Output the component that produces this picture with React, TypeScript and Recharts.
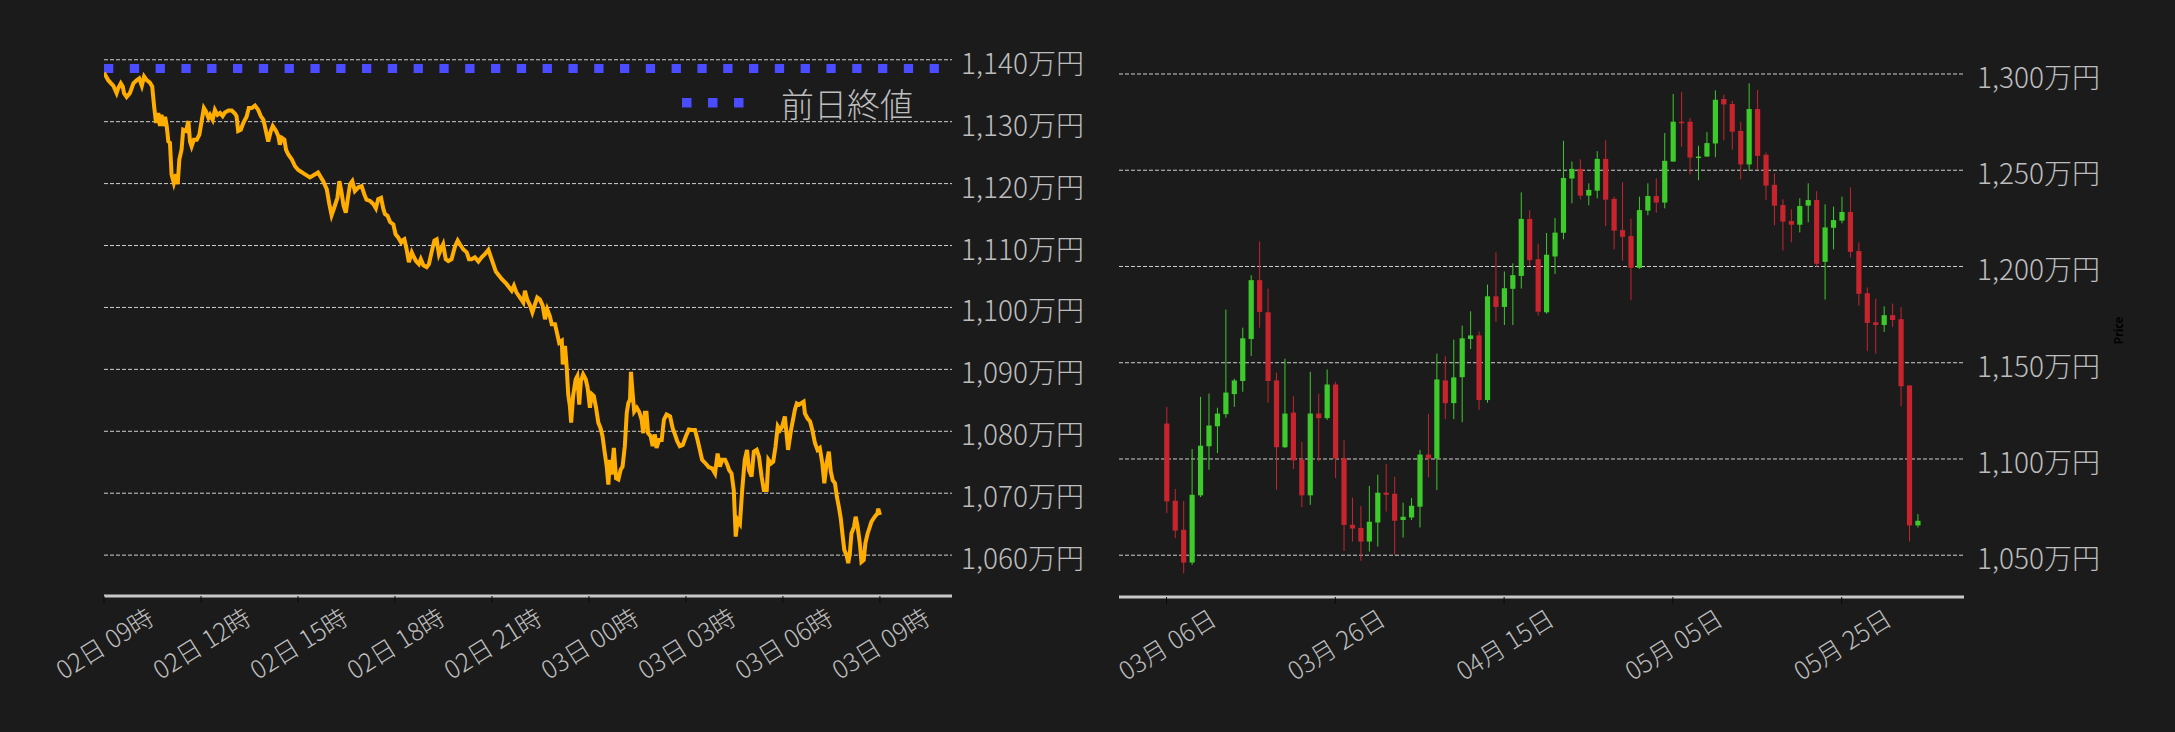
import React from "react";
import {
  Bar,
  CartesianGrid,
  ComposedChart,
  Line,
  LineChart,
  ReferenceLine,
  XAxis,
  YAxis,
} from "recharts";

// ---- intraday (left) ----
const lineHours = [
  0, 0.13, 0.29, 0.39, 0.44, 0.52, 0.58, 0.62, 0.7, 0.8,
  0.91, 1.01, 1.09, 1.17, 1.24, 1.32, 1.42, 1.49, 1.55, 1.61,
  1.68, 1.73, 1.78, 1.83, 1.89, 1.94, 1.99, 2.04, 2.09, 2.16,
  2.23, 2.28, 2.33, 2.4, 2.45, 2.54, 2.61, 2.66, 2.71, 2.78,
  2.87, 2.95, 3.02, 3.09, 3.15, 3.23, 3.28, 3.36, 3.43, 3.51,
  3.59, 3.67, 3.74, 3.85, 3.95, 4.05, 4.1, 4.15, 4.23, 4.31,
  4.41, 4.48, 4.57, 4.67, 4.77, 4.85, 4.93, 5.0, 5.08, 5.16,
  5.22, 5.32, 5.39, 5.44, 5.5, 5.58, 5.63, 5.7, 5.81, 5.91,
  6.01, 6.22, 6.37, 6.62,
  6.78, 6.89, 6.97, 7.04, 7.12, 7.22, 7.28, 7.35, 7.41, 7.48,
  7.54, 7.61, 7.68, 7.76, 7.87, 7.97, 8.05, 8.12, 8.23, 8.33,
  8.41, 8.48, 8.57, 8.64, 8.69, 8.77, 8.85, 8.95, 9.02, 9.1,
  9.19, 9.23, 9.29, 9.36, 9.43, 9.52, 9.59, 9.65, 9.74, 9.8,
  9.88, 9.98, 10.05, 10.14, 10.22, 10.29, 10.36, 10.42, 10.49, 10.57,
  10.65, 10.75, 10.86, 10.94, 11.01, 11.11, 11.22, 11.29, 11.37, 11.47,
  11.58, 11.68, 11.78, 11.89, 11.97, 12.06,
  12.12, 12.3, 12.45, 12.61, 12.68, 12.76, 12.87, 12.97, 13.02, 13.09,
  13.18, 13.25, 13.33, 13.4, 13.48, 13.57, 13.64, 13.71, 13.79, 13.85,
  13.95, 14.02, 14.08, 14.16, 14.19, 14.26, 14.31, 14.36, 14.41, 14.45,
  14.51, 14.59, 14.64, 14.7, 14.75, 14.82, 14.9, 14.96, 15.03, 15.09,
  15.15, 15.22, 15.29, 15.36, 15.42, 15.49, 15.55, 15.6, 15.65, 15.7,
  15.77, 15.84, 15.91, 15.98, 16.04, 16.11, 16.17, 16.22, 16.27, 16.3,
  16.35, 16.4, 16.48, 16.55, 16.63, 16.68, 16.73, 16.78, 16.83, 16.91,
  16.97, 17.04, 17.09, 17.17, 17.25, 17.32, 17.4, 17.51, 17.59, 17.66,
  17.73, 17.81, 17.9, 18.0, 18.09,
  18.18, 18.28, 18.36, 18.43, 18.5, 18.61, 18.71, 18.81, 18.9, 18.98,
  19.05, 19.12, 19.21, 19.28, 19.34, 19.41, 19.48, 19.54, 19.6, 19.67,
  19.74, 19.82, 19.89, 19.95, 20.03, 20.1, 20.19, 20.26, 20.34, 20.41,
  20.5, 20.55, 20.63, 20.7, 20.77, 20.84, 20.91, 20.98, 21.06, 21.11,
  21.16, 21.25, 21.32, 21.37, 21.43, 21.5, 21.58, 21.64, 21.68, 21.76,
  21.84, 21.91, 21.99, 22.07, 22.14, 22.22, 22.28, 22.35, 22.42, 22.48,
  22.54, 22.61, 22.67, 22.73, 22.79, 22.85, 22.9, 22.97, 23.02, 23.07,
  23.12, 23.2, 23.25, 23.31, 23.38, 23.43, 23.5, 23.55, 23.62, 23.69,
  23.74, 23.84, 23.92, 23.95, 24.0,
];

const linePrices = [
  1137.9, 1136.7, 1135.8, 1134.6, 1135.4, 1136.2, 1135.7, 1134.6, 1134.0, 1134.6,
  1136.2, 1136.7, 1137.0, 1135.8, 1137.3, 1136.7, 1136.3, 1135.7, 1132.5, 1129.8,
  1131.4, 1129.3, 1131.1, 1129.3, 1130.8, 1129.3, 1126.8, 1126.6, 1121.5, 1120.1,
  1121.5, 1119.9, 1123.9, 1125.5, 1128.7, 1128.5, 1130.1, 1126.8, 1126.0, 1127.1,
  1127.1, 1127.9, 1130.1, 1132.2, 1131.7, 1130.6, 1131.1, 1130.3, 1131.9, 1131.1,
  1131.4, 1130.9, 1131.5, 1131.8, 1131.8, 1131.3, 1130.9, 1128.5, 1128.7, 1129.8,
  1130.8, 1132.2, 1132.2, 1132.6, 1131.9, 1130.9, 1130.3, 1128.7, 1126.8, 1128.5,
  1129.3, 1128.5, 1127.7, 1126.3, 1127.4, 1127.1, 1125.5, 1124.7, 1123.9, 1122.8,
  1122.2, 1121.5, 1121.0, 1121.8,
  1120.4, 1119.1, 1116.7, 1114.9, 1116.1, 1117.7, 1120.4, 1118.5, 1116.4, 1115.3,
  1117.5, 1119.9, 1120.4, 1118.8, 1119.4, 1119.6, 1118.3, 1117.4, 1117.2, 1116.7,
  1116.0, 1117.5, 1117.7, 1115.9, 1115.1, 1114.8, 1113.8, 1113.4, 1111.8, 1111.3,
  1110.5, 1110.8, 1111.0, 1109.4, 1107.3, 1108.9, 1108.1, 1107.5, 1107.0, 1107.8,
  1106.8, 1106.5, 1107.0, 1109.1, 1110.8, 1111.0, 1108.6, 1109.4, 1110.2, 1107.8,
  1107.5, 1107.8, 1109.9, 1110.8, 1110.2, 1109.4, 1108.9, 1107.8, 1107.8, 1108.1,
  1107.4, 1108.1, 1108.6, 1109.3, 1108.1, 1106.7,
  1105.8, 1104.6, 1103.8, 1102.7, 1103.5, 1102.4, 1101.6, 1100.8, 1102.7, 1101.3,
  1100.3, 1099.2, 1100.5, 1101.6, 1101.3, 1100.3, 1098.1, 1099.7, 1098.6, 1097.3,
  1097.3, 1095.7, 1094.3, 1094.6, 1090.8, 1093.8, 1090.5, 1085.9, 1084.1, 1081.4,
  1085.7, 1088.4, 1088.9, 1084.3, 1088.1, 1089.2, 1088.4, 1087.0, 1083.8, 1086.0,
  1085.7, 1083.8, 1081.4, 1080.5, 1079.2, 1076.5, 1074.3, 1071.4, 1075.4, 1073.0,
  1077.3, 1072.4, 1072.2, 1073.8, 1074.3, 1077.6, 1083.0, 1084.6, 1085.1, 1089.6,
  1086.2, 1083.2, 1083.8, 1083.2, 1081.9, 1079.7, 1083.0, 1083.0, 1079.7, 1079.2,
  1077.6, 1079.5, 1077.3, 1078.6, 1078.6, 1081.9, 1082.7, 1082.4, 1080.5, 1079.5,
  1078.4, 1077.6, 1077.8, 1079.2, 1080.3,
  1080.2, 1080.2, 1078.6, 1077.0, 1075.4, 1074.8, 1074.2, 1074.0, 1073.2, 1076.4,
  1074.3, 1075.4, 1075.4, 1074.6, 1073.7, 1073.2, 1070.5, 1063.0, 1065.7, 1065.1,
  1070.5, 1075.4, 1077.0, 1073.7, 1072.7, 1076.7, 1077.0, 1075.9, 1072.7, 1070.5,
  1070.5, 1075.4, 1074.8, 1075.1, 1077.5, 1080.8, 1080.2, 1080.8, 1082.4, 1079.7,
  1077.0, 1080.2, 1082.1, 1083.5, 1084.5, 1084.3, 1084.6, 1084.8, 1082.9, 1082.1,
  1081.6, 1080.2, 1078.1, 1077.0, 1077.3, 1074.8, 1071.6, 1074.8, 1076.7, 1073.5,
  1072.1, 1071.6, 1069.4, 1067.8, 1065.9, 1063.0, 1060.8, 1060.0, 1058.7, 1060.3,
  1063.5, 1064.6, 1066.2, 1064.6, 1061.9, 1058.9, 1059.2, 1061.9, 1063.5, 1064.6,
  1065.4, 1066.2, 1066.7, 1067.5, 1066.5,
];

const prevClose = 1138.6;
const hourTicks = [0, 3, 6, 9, 12, 15, 18, 21, 24];
const hourLabels = [
  "02日 09時", "02日 12時", "02日 15時", "02日 18時", "02日 21時",
  "03日 00時", "03日 03時", "03日 06時", "03日 09時",
];
const leftYTicks = [1060, 1070, 1080, 1090, 1100, 1110, 1120, 1130, 1140];

// ---- daily candles (right), 03/06 .. 06/03 ----
const opens = [
  1118.4, 1078.3, 1063.2, 1046.2, 1081.1, 1106.6, 1117.0, 1123.3, 1133.7, 1140.5,
  1162.3, 1192.9, 1176.2, 1140.8, 1106.1, 1124.1, 1099.7, 1081.1, 1123.6, 1121.2,
  1138.7, 1100.4, 1065.8, 1064.2, 1057.1, 1067.0, 1082.5, 1081.9, 1068.3, 1069.6,
  1075.2, 1102.3, 1100.2, 1140.8, 1129.0, 1142.5, 1162.3, 1164.2, 1130.6, 1184.5,
  1179.0, 1188.4, 1195.1, 1224.7, 1203.8, 1176.2, 1205.2, 1217.5, 1245.7, 1250.7,
  1236.8, 1239.4, 1255.9, 1235.1, 1218.9, 1215.8, 1199.3, 1229.0, 1236.6, 1233.2,
  1254.5, 1275.2, 1275.2, 1256.8, 1257.1, 1263.9, 1287.0, 1284.4, 1270.4, 1253.0,
  1281.8, 1258.0, 1242.4, 1231.9, 1223.6, 1221.7, 1231.6, 1234.5, 1202.4, 1220.1,
  1223.8, 1228.3, 1208.0, 1186.1, 1171.0, 1169.6, 1174.7, 1172.6, 1138.2, 1065.5,
];
const highs = [
  1127.1, 1084.4, 1078.1, 1105.2, 1132.3, 1134.0, 1126.6, 1177.6, 1141.7, 1168.2,
  1195.5, 1213.0, 1188.5, 1144.8, 1152.1, 1132.6, 1108.9, 1145.3, 1133.9, 1146.5,
  1140.1, 1109.7, 1079.9, 1075.5, 1086.0, 1091.8, 1097.4, 1090.8, 1077.3, 1079.7,
  1104.7, 1123.4, 1154.7, 1153.3, 1162.0, 1169.3, 1176.7, 1166.3, 1190.6, 1207.3,
  1197.4, 1201.6, 1238.5, 1229.2, 1211.8, 1217.4, 1225.2, 1265.3, 1254.5, 1255.7,
  1243.2, 1259.9, 1265.5, 1236.3, 1243.8, 1224.8, 1236.3, 1243.2, 1245.8, 1269.3,
  1289.6, 1290.6, 1277.1, 1262.7, 1269.8, 1291.5, 1289.2, 1286.0, 1275.2, 1295.2,
  1291.7, 1259.2, 1248.4, 1234.9, 1229.7, 1235.4, 1243.2, 1239.1, 1232.3, 1231.1,
  1236.3, 1241.1, 1212.5, 1189.1, 1183.3, 1179.3, 1180.7, 1178.8, 1138.2, 1071.4,
];
const lows = [
  1071.9, 1058.9, 1040.6, 1045.0, 1080.2, 1094.4, 1103.1, 1121.4, 1127.1, 1134.9,
  1153.5, 1168.2, 1129.2, 1084.0, 1105.7, 1094.8, 1075.0, 1076.2, 1098.8, 1120.3,
  1090.1, 1052.2, 1057.1, 1047.1, 1051.9, 1054.5, 1072.7, 1050.2, 1059.2, 1068.3,
  1064.4, 1090.5, 1083.9, 1120.7, 1120.7, 1119.1, 1157.1, 1125.5, 1129.2, 1171.2,
  1169.6, 1169.6, 1188.5, 1200.3, 1174.5, 1175.4, 1196.1, 1214.1, 1232.8, 1234.9,
  1231.8, 1235.4, 1221.0, 1208.9, 1203.0, 1182.5, 1198.8, 1226.6, 1227.9, 1230.2,
  1254.5, 1262.3, 1247.9, 1244.8, 1257.1, 1256.8, 1265.5, 1260.7, 1245.3, 1249.8,
  1250.1, 1234.4, 1221.4, 1208.3, 1212.5, 1217.7, 1222.9, 1199.8, 1182.8, 1208.9,
  1222.4, 1204.7, 1179.7, 1156.1, 1154.7, 1166.0, 1168.6, 1127.4, 1057.1, 1064.4,
];
const closes = [
  1078.0, 1062.8, 1046.2, 1081.4, 1106.9, 1117.4, 1123.6, 1134.5, 1140.8, 1162.7,
  1192.9, 1176.4, 1140.5, 1106.1, 1123.6, 1099.3, 1081.1, 1123.6, 1121.2, 1138.7,
  1100.2, 1065.7, 1063.9, 1057.1, 1067.4, 1082.5, 1081.4, 1067.9, 1070.0, 1075.7,
  1102.3, 1100.2, 1141.3, 1129.0, 1142.4, 1162.7, 1164.2, 1130.6, 1184.5, 1179.0,
  1188.7, 1195.5, 1224.7, 1203.3, 1176.5, 1206.1, 1217.6, 1246.0, 1250.7, 1236.8,
  1239.8, 1255.9, 1234.7, 1218.6, 1215.4, 1199.3, 1229.3, 1236.6, 1233.2, 1254.9,
  1275.2, 1274.8, 1256.6, 1257.1, 1264.1, 1286.6, 1284.2, 1270.0, 1253.0, 1281.8,
  1257.5, 1242.0, 1231.6, 1223.3, 1221.7, 1231.4, 1234.5, 1201.4, 1220.3, 1224.1,
  1228.3, 1207.6, 1185.8, 1170.7, 1169.6, 1174.7, 1172.2, 1137.8, 1065.5, 1067.9,
];
const dayTicks = [0, 20, 40, 60, 80];
const dayLabels = ["03月 06日", "03月 26日", "04月 15日", "05月 05日", "05月 25日"];
const rightYTicks = [1050, 1100, 1150, 1200, 1250, 1300];

const BG = "#1b1b1b";
const TEXT = "#bdbdbd";
const GRID = "#cfcfcf";
const ORANGE = "#ffad00";
const BLUE = "#4b4bff";
const GREEN = "#3dca2b";
const RED = "#c8242e";
const FONT = "'Noto Sans CJK JP', 'Noto Sans', sans-serif";

const lineData = lineHours.map((t, i) => ({ t, p: linePrices[i] }));
const candleData = opens.map((o, i) => ({
  i,
  open: o,
  high: highs[i],
  low: lows[i],
  close: closes[i],
  range: [lows[i], highs[i]],
}));

const yen = (v: number) => `${v.toLocaleString("en-US")}万円`;

function YTick(props: any) {
  const { x, y, payload } = props;
  return (
    <text
      x={x}
      y={y + 2}
      fill={TEXT}
      fontSize={28}
      fontWeight={300}
      textAnchor="start"
      dominantBaseline="central"
    >
      {yen(payload.value)}
    </text>
  );
}

function makeXTick(ticks: number[], labels: string[]) {
  return function XTick(props: any) {
    const { x, y, payload } = props;
    const cy = y + 39;
    const label = labels[ticks.indexOf(payload.value)] ?? "";
    return (
      <text
        x={x}
        y={cy}
        fill={TEXT}
        fontSize={25}
        fontWeight={300}
        textAnchor="middle"
        dominantBaseline="central"
        transform={`rotate(-32, ${x}, ${cy})`}
      >
        {label}
      </text>
    );
  };
}

const HourTick = makeXTick(hourTicks, hourLabels);
const DayTick = makeXTick(dayTicks, dayLabels);

function Candle(props: any) {
  const { x, y, width, height, payload } = props;
  if (!payload) return null;
  const top = Math.min(y, y + height);
  const h = Math.abs(height);
  const { open, close, high, low } = payload;
  const k = high > low ? h / (high - low) : 0;
  const cx = x + width / 2;
  const yO = top + (high - open) * k;
  const yC = top + (high - close) * k;
  const color = close >= open ? GREEN : RED;
  const bodyTop = Math.min(yO, yC);
  const bodyH = Math.max(Math.abs(yC - yO), 1.5);
  return (
    <g>
      <line x1={cx} x2={cx} y1={top} y2={top + h} stroke={color} strokeWidth={1} />
      <rect x={cx - 2.6} y={bodyTop} width={5.2} height={bodyH} fill={color} />
    </g>
  );
}

function PriceLabel(props: any) {
  const { viewBox } = props;
  if (!viewBox) return null;
  const x = viewBox.x + 154;
  const y = viewBox.y + viewBox.height / 2 + 8;
  return (
    <text
      x={x}
      y={y}
      fill="#000"
      fontSize={11}
      fontWeight="bold"
      textAnchor="middle"
      dominantBaseline="central"
      transform={`rotate(-90, ${x}, ${y})`}
    >
      Price
    </text>
  );
}

export default function App() {
  return (
    <div
      style={{
        position: "absolute",
        left: 0,
        top: 0,
        width: 2175,
        height: 732,
        background: BG,
        fontFamily: FONT,
        overflow: "hidden",
      }}
    >
      <div style={{ position: "absolute", left: 0, top: 0 }}>
        <LineChart
          width={1100}
          height={732}
          data={lineData}
          margin={{ top: 48, right: 0, left: 104, bottom: 36 }}
        >
          <CartesianGrid
            vertical={false}
            horizontalValues={leftYTicks}
            stroke={GRID}
            strokeDasharray="4 2"
          />
          <XAxis
            dataKey="t"
            type="number"
            domain={[0, 26.23]}
            allowDataOverflow
            ticks={hourTicks}
            interval={0}
            height={100}
            axisLine={{ stroke: "#c8c8c8", strokeWidth: 3 }}
            tickLine={{ stroke: "#0a0a0a" }}
            tickSize={7}
            tickMargin={0}
            tick={<HourTick />}
          />
          <YAxis
            orientation="right"
            type="number"
            domain={[1053.4, 1141.9]}
            allowDataOverflow
            ticks={leftYTicks}
            interval={0}
            width={148}
            axisLine={false}
            tickLine={false}
            tickSize={0}
            tickMargin={9}
            tick={<YTick />}
          />
          <ReferenceLine
            segment={[
              { x: 0, y: prevClose },
              { x: 26.23, y: prevClose },
            ]}
            stroke={BLUE}
            strokeWidth={9}
            strokeDasharray="9.3 16.5"
          />
          <Line
            type="linear"
            dataKey="p"
            stroke={ORANGE}
            strokeWidth={4}
            dot={false}
            isAnimationActive={false}
          />
        </LineChart>
      </div>

      <div
        style={{
          position: "absolute",
          left: 682,
          top: 86,
          display: "flex",
          alignItems: "center",
          height: 34,
        }}
      >
        <svg width={62} height={10}>
          {[0, 26, 52].map((dx) => (
            <rect key={dx} x={dx} y={0} width={9.5} height={9.5} fill={BLUE} />
          ))}
        </svg>
        <span
          style={{ marginLeft: 37, fontSize: 33, fontWeight: 300, color: TEXT, lineHeight: 1 }}
        >
          前日終値
        </span>
      </div>

      <div style={{ position: "absolute", left: 1100, top: 0 }}>
        <ComposedChart
          width={1075}
          height={732}
          data={candleData}
          margin={{ top: 48, right: 0, left: 19, bottom: 35 }}
        >
          <CartesianGrid
            vertical={false}
            horizontalValues={rightYTicks}
            stroke={GRID}
            strokeDasharray="4 2"
          />
          <XAxis
            dataKey="i"
            type="number"
            domain={[-5.63, 94.49]}
            allowDataOverflow
            ticks={dayTicks}
            interval={0}
            height={100}
            axisLine={{ stroke: "#c8c8c8", strokeWidth: 3 }}
            tickLine={{ stroke: "#0a0a0a" }}
            tickSize={7}
            tickMargin={0}
            tick={<DayTick />}
          />
          <YAxis
            orientation="right"
            type="number"
            domain={[1028.3, 1313.5]}
            allowDataOverflow
            ticks={rightYTicks}
            interval={0}
            width={211}
            axisLine={false}
            tickLine={false}
            tickSize={0}
            tickMargin={13}
            tick={<YTick />}
            label={<PriceLabel />}
          />
          <Bar dataKey="range" barSize={5} shape={<Candle />} isAnimationActive={false} />
        </ComposedChart>
      </div>
    </div>
  );
}
